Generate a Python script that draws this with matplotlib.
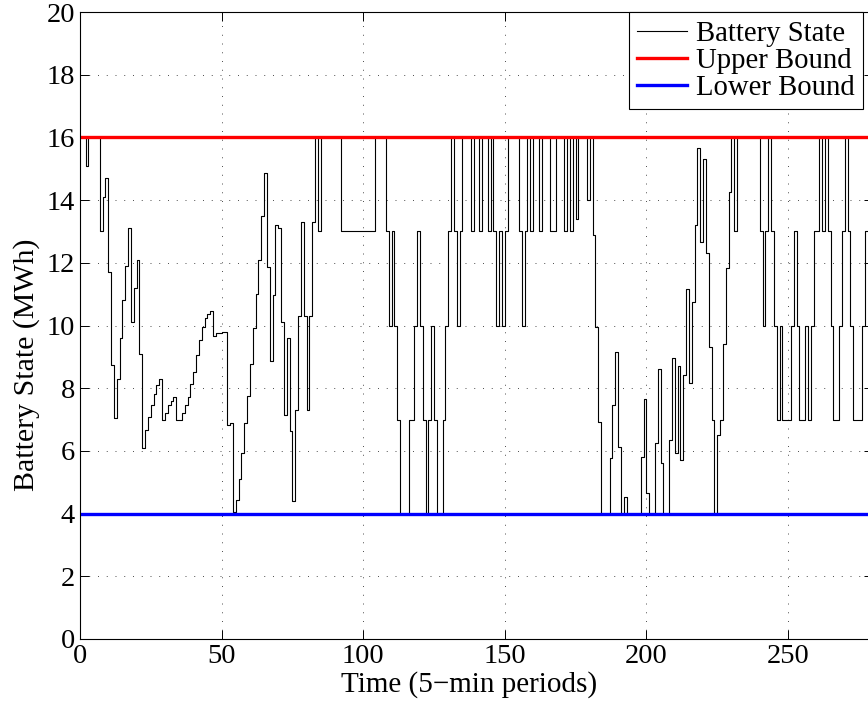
# plot.py — battery state over one day (5-min periods) with upper/lower bounds.
import numpy as np, matplotlib
matplotlib.use("Agg")
import matplotlib.pyplot as plt

# battery state per 5-min period (MWh), one value per step
state = [
    16, 16, 15.1, 16, 16, 16, 16, 13.0, 14.1, 14.7,
    11.7, 8.74, 7.04, 8.3, 9.6, 10.8, 11.9, 13.1, 10.1, 11.2,
    12.1, 9.1, 6.1, 6.67, 7.07, 7.46, 7.8, 8.1, 8.3, 7.0,
    7.2, 7.45, 7.6, 7.73, 7.0, 7.0, 7.2, 7.45, 7.73, 8.12,
    8.53, 9.06, 9.54, 9.96, 10.23, 10.36, 10.47, 9.68, 9.75, 9.75,
    9.78, 9.78, 6.83, 6.9, 4.06, 4.43, 5.1, 5.92, 6.88, 7.76,
    8.76, 9.93, 11.0, 12.1, 13.5, 14.85, 11.88, 8.88, 10.97, 13.2,
    13.1, 10.1, 7.15, 9.6, 6.63, 4.4, 7.3, 10.3, 13.3, 10.3,
    7.3, 10.3, 13.3, 16, 13, 16, 16, 16, 16, 16,
    16, 16, 13, 13, 13, 13, 13, 13, 13, 13,
    13, 13, 13, 13, 16, 16, 16, 16, 13, 10,
    13, 10, 7, 4, 4, 4, 7, 7, 10, 13,
    10, 7, 4, 7, 10, 7, 4, 4, 7, 10,
    13, 16, 13, 10, 13, 16, 16, 16, 13, 16,
    16, 13, 16, 16, 13, 16, 13, 10, 13, 10,
    13, 16, 16, 16, 16, 13, 10, 13, 16, 13,
    16, 16, 13, 16, 16, 16, 13, 13, 16, 16,
    16, 13, 16, 13, 16, 13.4, 16, 16, 16, 14.0,
    16, 12.9, 9.96, 6.93, 4, 4, 4, 5.76, 7.46, 9.14,
    6.13, 4, 4.53, 4, 4, 4, 4, 4, 5.8, 7.65,
    4.65, 4, 4, 6.24, 8.6, 5.6, 4, 4, 6.35, 8.95,
    5.94, 8.72, 5.71, 8.42, 11.16, 8.18, 10.76, 13.2, 15.65, 12.65,
    15.3, 12.3, 9.32, 7.0, 4, 6.5, 7.0, 9.4, 11.85, 14.27,
    16, 13, 16, 16, 16, 16, 16, 16, 16, 16,
    13, 10, 13, 16, 13, 10, 7, 10, 7, 7,
    7, 10, 13, 10, 7, 7, 10, 7, 10, 13,
    13, 16, 13, 16, 13, 10, 7, 7, 10, 13,
    16, 13, 10, 7, 7, 7, 10, 13, 13, 13,
]
upper = 16
lower = 4
t_max = 280

plt.rcParams["font.family"] = ["Liberation Serif", "DejaVu Serif"]
plt.rcParams["font.size"] = 20.5

fig = plt.figure(figsize=(8.68, 7.04), dpi=100)
ax = fig.add_axes([80 / 868, 65 / 704, 793 / 868, 627 / 704])

t = np.arange(len(state) + 1)
ax.step(t, state + [state[-1]], where="post", color="k", lw=0.8, label="Battery State")
ax.plot([0, t_max], [upper, upper], color="#ff0000", lw=2.4, label="Upper Bound")
ax.plot([0, t_max], [lower, lower], color="#0000ff", lw=2.4, label="Lower Bound")

ax.set_xlim(0, t_max)
ax.set_ylim(0, 20)
ax.set_xticks([0, 50, 100, 150, 200, 250])
ax.set_yticks(np.arange(0, 21, 2))
ax.tick_params(direction="in", length=6.5, width=0.7, top=True, right=True, labelsize=20.5, pad=3.6)
ax.grid(True, linestyle=(0, (1, 8)), linewidth=0.7, color="0.3")
for s in ax.spines.values():
    s.set_linewidth(0.8)
ax.set_xlabel("Time (5\u2212min periods)", fontsize=21)
ax.xaxis.set_label_coords(0.49, -0.051)
ax.set_ylabel("Battery State (MWh)", fontsize=21.5)
ax.yaxis.set_label_coords(-0.051, 0.437)

leg = ax.legend(loc="upper right", bbox_to_anchor=(863 / 868, 1 - 12 / 704),
                bbox_transform=fig.transFigure, fancybox=False, framealpha=1,
                edgecolor="k", handlelength=1.73, handletextpad=0.3,
                labelspacing=0.03, borderpad=0.3, borderaxespad=0, fontsize=20.7)
leg.get_frame().set_linewidth(0.8)

fig.savefig("out.png", dpi=100)
